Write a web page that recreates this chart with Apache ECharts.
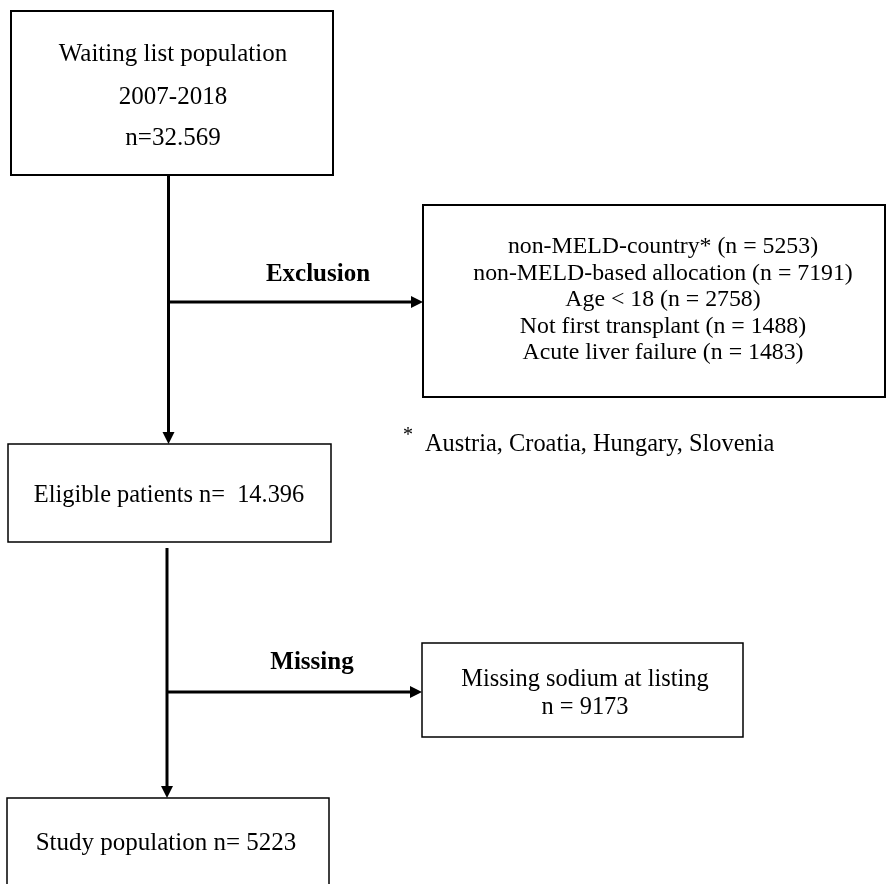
<!DOCTYPE html>
<html>
<head>
<meta charset="utf-8">
<script src="https://cdn.jsdelivr.net/npm/echarts@6/dist/echarts.min.js"></script>
<style>
  html, body { margin: 0; padding: 0; background: #ffffff; }
  #chart { width: 886px; height: 884px; }
</style>
</head>
<body>
<div id="chart"></div>
<script>
const populationTitle = ['Waiting list population', '2007-2018'];
const populationCounts = ['32.569', '14.396', '5223'];
const exclusionReasons = ['non-MELD-country*', 'non-MELD-based allocation', 'Age < 18', 'Not first transplant', 'Acute liver failure'];
const exclusionCounts = [5253, 7191, 2758, 1488, 1483];
const missingReason = 'Missing sodium at listing';
const missingCount = 9173;
const branchLabels = ['Exclusion', 'Missing'];
const footnoteMark = '*';
const footnoteCountries = ['Austria', 'Croatia', 'Hungary', 'Slovenia'];

// ---- Texts built from the data ----
const boxTexts = [
  [populationTitle[0], populationTitle[1], 'n=' + populationCounts[0]],
  exclusionReasons.map((r, i) => r + ' (n = ' + exclusionCounts[i] + ')'),
  ['Eligible patients n=  ' + populationCounts[1]],
  [missingReason, 'n = ' + missingCount],
  ['Study population n= ' + populationCounts[2]]
];

// ---- Layout (positions in the flowchart's coordinate space) ----
const boxLayout = [
  { x0: 11, y0: 11, x1: 333, y1: 175, cx: 173, lines: [54, 97, 138], fs: 25, lw: 2 },
  { x0: 423, y0: 205, x1: 885, y1: 397, cx: 663, lines: [247, 273.5, 300, 326.5, 353], fs: 23.8, lw: 2 },
  { x0: 8, y0: 444, x1: 331, y1: 542, cx: 169, lines: [496], fs: 24.4, lw: 1.5 },
  { x0: 422, y0: 643, x1: 743, y1: 737, cx: 585, lines: [680, 708], fs: 24.4, lw: 1.5 },
  { x0: 7, y0: 798, x1: 329, y1: 900, cx: 166, lines: [843], fs: 25, lw: 1.5 }
];
const arrowLayout = [
  [[168.5, 175], [168.5, 444]],
  [[168.5, 302], [423, 302]],
  [[167, 548], [167, 798]],
  [[167, 692], [422, 692]]
];
const branchLabelLayout = [[318, 275], [312, 663]];
const footnoteLayout = { mark: [408, 436], text: [425, 445] };

const FONT = '"Liberation Serif", "DejaVu Serif", serif';

const chart = echarts.init(document.getElementById('chart'), null, { renderer: 'canvas' });

function rectFrom(api, b) {
  const p0 = api.coord([b.x0, b.y0]);
  const p1 = api.coord([b.x1, b.y1]);
  return {
    x: Math.min(p0[0], p1[0]),
    y: Math.min(p0[1], p1[1]),
    width: Math.abs(p1[0] - p0[0]),
    height: Math.abs(p1[1] - p0[1])
  };
}

const option = {
  backgroundColor: '#ffffff',
  animation: false,
  grid: { left: 0, right: 0, top: 0, bottom: 0, containLabel: false },
  xAxis: { type: 'value', min: 0, max: 886, show: false },
  yAxis: { type: 'value', min: 0, max: 884, inverse: true, show: false },
  series: [
    {
      type: 'custom',
      name: 'boxes',
      coordinateSystem: 'cartesian2d',
      data: boxTexts.map((t, i) => [i]),
      renderItem: function (params, api) {
        const i = params.dataIndex;
        const b = boxLayout[i];
        const children = [{
          type: 'rect',
          shape: rectFrom(api, b),
          style: { fill: '#ffffff', stroke: '#000000', lineWidth: b.lw }
        }];
        boxTexts[i].forEach(function (t, j) {
          const c = api.coord([b.cx, b.lines[j]]);
          children.push({
            type: 'text',
            x: c[0], y: c[1],
            style: {
              text: t, x: 0, y: 0,
              align: 'center', verticalAlign: 'middle',
              fontFamily: FONT, fontSize: b.fs, fill: '#000000'
            }
          });
        });
        return { type: 'group', children: children };
      }
    },
    {
      type: 'custom',
      name: 'arrows',
      coordinateSystem: 'cartesian2d',
      data: arrowLayout.map((a, i) => [i]),
      renderItem: function (params, api) {
        const a = arrowLayout[params.dataIndex];
        const s = api.coord(a[0]);
        const e = api.coord(a[1]);
        const dx = e[0] - s[0], dy = e[1] - s[1];
        const len = Math.sqrt(dx * dx + dy * dy);
        const ux = dx / len, uy = dy / len;
        const headL = 12, headW = 6;
        const bx = e[0] - ux * headL, by = e[1] - uy * headL;
        return {
          type: 'group',
          children: [
            {
              type: 'line',
              shape: { x1: s[0], y1: s[1], x2: bx + ux, y2: by + uy },
              style: { stroke: '#000000', lineWidth: 3 }
            },
            {
              type: 'polygon',
              shape: { points: [[e[0], e[1]], [bx - uy * headW, by + ux * headW], [bx + uy * headW, by - ux * headW]] },
              style: { fill: '#000000' }
            }
          ]
        };
      }
    },
    {
      type: 'custom',
      name: 'labels',
      coordinateSystem: 'cartesian2d',
      data: branchLabels.map((t, i) => [i]),
      renderItem: function (params, api) {
        const i = params.dataIndex;
        const c = api.coord(branchLabelLayout[i]);
        return {
          type: 'text', x: c[0], y: c[1],
          style: {
            text: branchLabels[i], x: 0, y: 0,
            align: 'center', verticalAlign: 'middle',
            fontFamily: FONT, fontSize: 25, fontWeight: 'bold', fill: '#000000'
          }
        };
      }
    },
    {
      type: 'custom',
      name: 'footnote',
      coordinateSystem: 'cartesian2d',
      data: [[0]],
      renderItem: function (params, api) {
        const m = api.coord(footnoteLayout.mark);
        const t = api.coord(footnoteLayout.text);
        return {
          type: 'group',
          children: [
            {
              type: 'text', x: m[0], y: m[1],
              style: {
                text: footnoteMark, x: 0, y: 0, align: 'center', verticalAlign: 'middle',
                fontFamily: FONT, fontSize: 20, fill: '#000000'
              }
            },
            {
              type: 'text', x: t[0], y: t[1],
              style: {
                text: footnoteCountries.join(', '), x: 0, y: 0, align: 'left', verticalAlign: 'middle',
                fontFamily: FONT, fontSize: 24.4, fill: '#000000'
              }
            }
          ]
        };
      }
    }
  ]
};

chart.setOption(option);
</script>
</body>
</html>
